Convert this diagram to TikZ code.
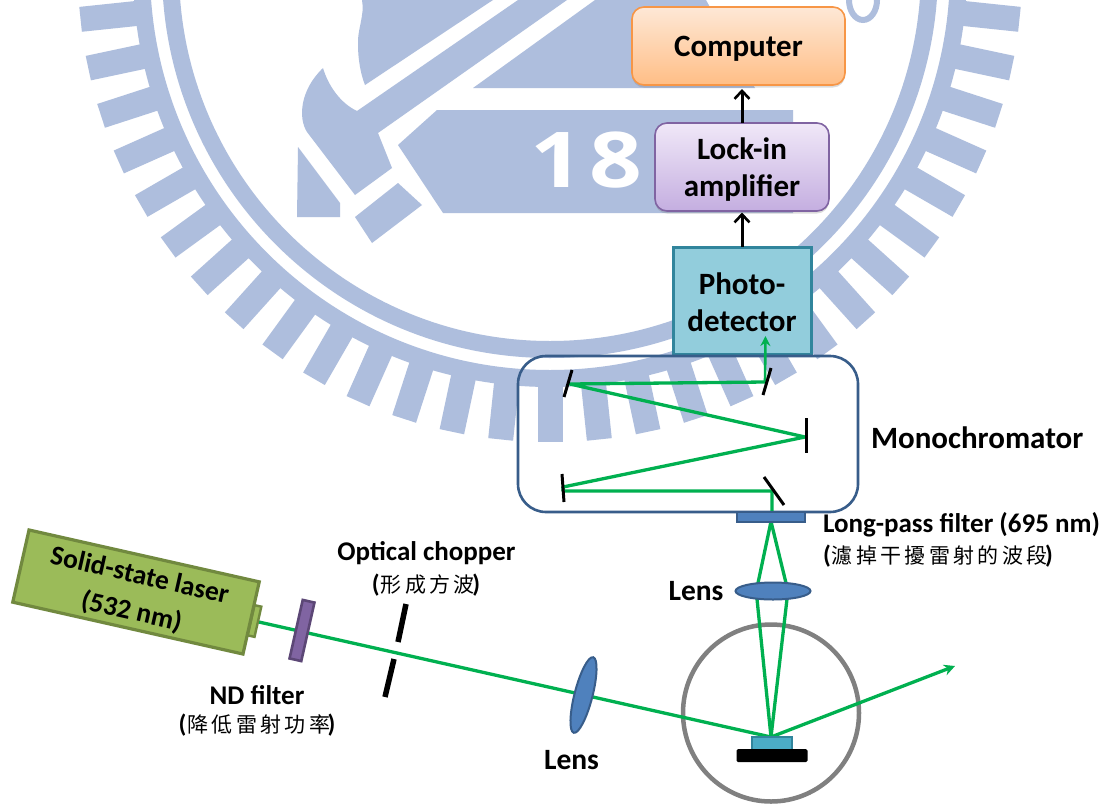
\documentclass[tikz,border=0pt]{standalone}
\usepackage{fontspec}
\setmainfont{Carlito}
\newfontfamily\cjk[LetterSpace=16]{Noto Sans CJK TC}
\newfontfamily\wmfont{Open Sans}
\usetikzlibrary{arrows.meta,shapes.geometric,shadows,calc}
\pgfdeclarelayer{back}
\pgfdeclarelayer{beam}
\pgfsetlayers{back,beam,main}
\definecolor{wm}{RGB}{174,190,221}
\definecolor{gbeam}{RGB}{0,176,80}
\definecolor{lensfill}{RGB}{79,129,189}
\definecolor{lensline}{RGB}{56,93,138}
\newcommand{\cjknote}[1]{{\bfseries(}\kern1pt{\mdseries\fontsize{21}{21}\selectfont\cjk #1}\kern-2.5pt{\bfseries)}}
\tikzset{
  x=1pt,y=-1pt,
  txt/.style={font=\fontsize{#1}{#1}\selectfont\bfseries,inner sep=0pt,outer sep=0pt},
  txt/.default=27,
  cjktxt/.style={font=\fontsize{25}{25}\selectfont,inner sep=0pt,outer sep=0pt},
  bigbox/.style={font=\fontsize{31}{37}\selectfont\bfseries,align=center,inner sep=0pt,outer sep=0pt,rounded corners=12pt},
  greenray/.style={draw=gbeam,line width=3.3pt,line join=round},
  blackarrow/.style={draw=black,line width=3pt,-{Straight Barb[length=8pt,width=15pt,line width=2.6pt]}},
  mirror/.style={draw=black,line width=3pt},
  blade/.style={draw=black,line width=5.5pt},
  lensstyle/.style={ellipse,draw=lensline,line width=2pt,fill=lensfill,inner sep=0pt,outer sep=0pt},
  softshadow/.style={drop shadow={opacity=.28,shadow xshift=0pt,shadow yshift=-2.5pt}},
}
\begin{document}
\begin{tikzpicture}
\useasboundingbox (0,0) rectangle (1113,809);
\begin{pgfonlayer}{back}
\fill[white] (0,0) rectangle (1113,809);
\begin{scope}
\clip (0,0) rectangle (1113,809);
\fill[wm,even odd rule] (550,-30) circle[radius=388pt] circle[radius=371pt];
\fill[wm,even odd rule] (550,-30) circle[radius=417pt] circle[radius=400pt];
\foreach \a in {6,12,...,174}{
  \fill[wm] ({550+405*cos(\a)-12.5*sin(\a)},{-30+405*sin(\a)+12.5*cos(\a)})
    -- ({550+472*cos(\a)-12.5*sin(\a)},{-30+472*sin(\a)+12.5*cos(\a)})
    -- ({550+472*cos(\a)+12.5*sin(\a)},{-30+472*sin(\a)-12.5*cos(\a)})
    -- ({550+405*cos(\a)+12.5*sin(\a)},{-30+405*sin(\a)-12.5*cos(\a)}) -- cycle;
}
\fill[wm] (473,88) -- (595,0) -- (706,0) -- (755,88) -- cycle;
\fill[wm] (362,0) .. controls (365,15) and (357,30) .. (358,45) .. controls (358,60) and (361,75) .. (365,85) -- (493,0) -- cycle;
\fill[wm] (518,0) -- (567,0) -- (378,133) -- (392,168) -- (355,195) -- (307,132) .. controls (298,118) and (300,90) .. (323,68) .. controls (328,85) and (340,103) .. (357,111) -- cycle;
\fill[wm] (298,147) -- (340,203) -- (340,217) -- (297,217) -- cycle;
\fill[wm] (398,183) -- (422,205) -- (372,243) -- (355,217) -- cycle;
\fill[wm] (437,110) -- (793,110) -- (793,213) -- (443,213) -- (398,145) -- cycle;
\node[text=white,inner sep=0pt,font=\wmfont\fontsize{77}{77}\selectfont\bfseries,xscale=1.2] (wmtext) at (586.5,160) {1\kern5pt 8};
\draw[wm,line width=6pt] (863,0) ellipse[x radius=14pt,y radius=20pt];
\end{scope}
\node[ellipse,draw=gray,line width=4.5pt,minimum width=176pt,minimum height=177pt,inner sep=0pt,outer sep=0pt] (chamber) at (771,713) {};
\end{pgfonlayer}

% instrument boxes
\node[bigbox,draw={rgb,255:red,247;green,150;blue,70},line width=1.6pt,top color={rgb,255:red,254;green,232;blue,214},bottom color={rgb,255:red,255;green,190;blue,134},minimum width=213pt,minimum height=78pt,softshadow] (computer) at (738.5,46) {\rule{0pt}{25pt}Computer};
\node[bigbox,draw={rgb,255:red,128;green,100;blue,162},line width=1.6pt,top color={rgb,255:red,240;green,232;blue,248},bottom color={rgb,255:red,196;green,174;blue,224},minimum width=174pt,minimum height=88pt,softshadow] (lockin) at (742,167) {\rule{0pt}{26pt}Lock-in\\amplifier};
\node[bigbox,rounded corners=0pt,draw={rgb,255:red,49;green,133;blue,156},line width=3pt,fill={rgb,255:red,146;green,205;blue,220},minimum width=138pt,minimum height=107pt] (detector) at (742,300.5) {\rule{0pt}{25pt}Photo-\\detector};
\node[draw={rgb,255:red,56;green,93;blue,138},line width=2.6pt,rounded corners=28pt,minimum width=340pt,minimum height=156pt,inner sep=0pt,outer sep=0pt] (mono) at (688,434) {};
\node[txt=31,anchor=west] (monolabel) at (871,438) {Monochromator};

% arrows between boxes
\coordinate (detout) at (detector.north);
\draw[blackarrow,shorten >=1.5pt] (detout) -- (detout |- lockin.south);
\coordinate (lockout) at (lockin.north);
\draw[blackarrow,shorten >=4pt] (lockout) -- (lockout |- computer.south);

% monochromator mirrors
\coordinate (m1a) at (572,370); \coordinate (m1b) at (564,397);
\coordinate (m2a) at (771,368); \coordinate (m2b) at (763,395);
\coordinate (m3a) at (806,418); \coordinate (m3b) at (806,453);
\coordinate (m4a) at (562,474); \coordinate (m4b) at (564,502);
\coordinate (m5a) at (764,477); \coordinate (m5b) at (784,505);
\coordinate (h5) at (772,491);
\coordinate (h4l) at (563,491);
\coordinate (h4u) at (563,487);
\coordinate (h3) at (805,437);
\coordinate (h1) at (570,384);
\coordinate (h2) at (765,382);
\coordinate (dettip) at (765.5,336);
\coordinate (filtertop) at (772,511);
\draw[greenray] (filtertop) -- (h5) -- (h4l) -- (h4u) -- (h3) -- (h1) -- (h2);
\draw[greenray,-{Stealth[length=10pt,width=10pt]},line width=2.6pt] (h2) -- (dettip);
\foreach \p in {1,...,5}{\draw[mirror] (m\p a) -- (m\p b);}

% long-pass filter and lens
\node[draw=lensline,line width=2pt,fill=lensfill,minimum width=68pt,minimum height=10pt,inner sep=0pt,outer sep=0pt] (lpf) at (771,516.5) {};
\node[lensstyle,minimum width=75pt,minimum height=17pt] (toplens) at (773,591) {};
\node[lensstyle,minimum width=78pt,minimum height=18pt,rotate=75.6] (sidelens) at (583.5,695) {};

% sample
\node[draw={rgb,255:red,49;green,133;blue,156},line width=1.8pt,fill={rgb,255:red,75;green,172;blue,198},minimum width=40pt,minimum height=13pt,inner sep=0pt,outer sep=0pt] (sample) at (772,743.5) {};
\node[fill=black,rounded corners=1.5pt,minimum width=71pt,minimum height=13pt,inner sep=0pt,outer sep=0pt] (stage) at (772,755.5) {};

% laser and ND filter
\node[draw={rgb,255:red,113;green,137;blue,63},line width=2.4pt,fill={rgb,255:red,155;green,187;blue,89},minimum width=7pt,minimum height=31pt,inner sep=0pt,outer sep=0pt,rotate=-12.7] (nub) at (254.5,621) {};
\node[draw={rgb,255:red,113;green,137;blue,63},line width=3.2pt,fill={rgb,255:red,155;green,187;blue,89},minimum width=236pt,minimum height=74pt,inner sep=0pt,outer sep=0pt,rotate=-12.7,font=\fontsize{27.5}{37}\selectfont\bfseries,align=center] (laser) at (136,592) {\rule{0pt}{24pt}Solid-state laser\\(532 nm)};
\node[draw={rgb,255:red,92;green,71;blue,118},line width=2.6pt,fill={rgb,255:red,128;green,100;blue,162},minimum width=12pt,minimum height=60pt,inner sep=0pt,outer sep=0pt,rotate=-12.7] (nd) at (302,630.5) {};

% chopper blades
\coordinate (c1a) at (406,604); \coordinate (c1b) at (398,642);
\coordinate (c2a) at (394,659); \coordinate (c2b) at (385,697);
\draw[blade] (c1a) -- (c1b);
\draw[blade] (c2a) -- (c2b);

% beams
\coordinate (spot) at (771,737);
\coordinate (outtip) at (955,666);
\begin{pgfonlayer}{beam}
\draw[greenray] (nub.east) -- (spot);
\coordinate (lu1) at (758,583); \coordinate (lu2) at (786,583);
\coordinate (ld1) at (757,599); \coordinate (ld2) at (787,599);
\draw[greenray] (lpf.south) -- (lu1) -- (ld1) -- (spot) -- (ld2) -- (lu2) -- cycle;
\draw[greenray,-{Stealth[length=11pt,width=11pt]}] (spot) -- (outtip);
\end{pgfonlayer}

% labels
\node[txt=27] (choplabel) at (426.5,553) {Optical chopper};
\node[cjktxt] (chopnote) at (426,585) {\cjknote{形成方波}};
\node[txt=27] (ndlabel) at (257,695) {ND filter};
\node[cjktxt] (ndnote) at (257,725) {\cjknote{降低雷射功率}};
\node[txt=29.5] (lenstop) at (696,591) {Lens};
\node[txt=29.5] (lensbot) at (571.5,760) {Lens};
\node[txt=27,anchor=west] (lpflabel) at (823,525) {Long-pass filter (695 nm)};
\node[cjktxt,anchor=west] (lpfnote) at (823,556) {\cjknote{濾掉干擾雷射的波段}};
\end{tikzpicture}
\end{document}
